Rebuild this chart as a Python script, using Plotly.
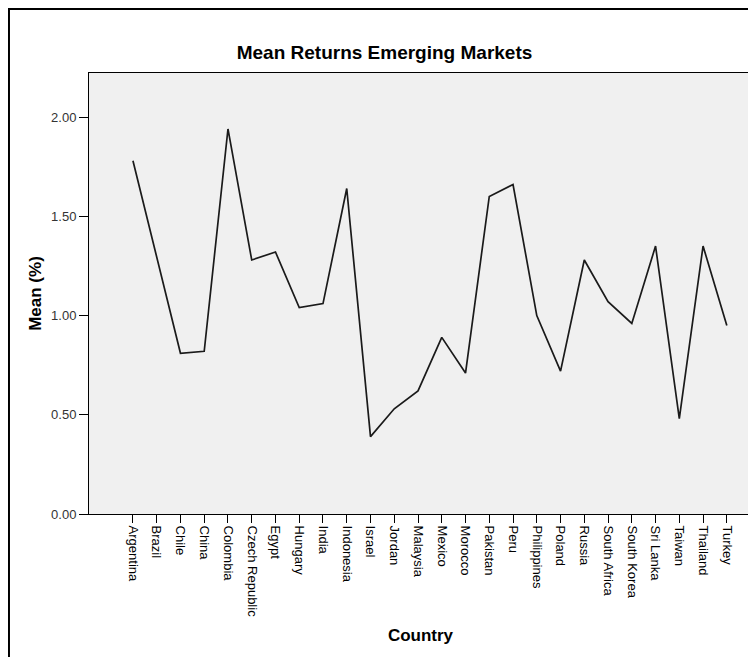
import plotly.graph_objects as go

FONT = "Liberation Sans, Arial, sans-serif"

countries = [
    "Argentina", "Brazil", "Chile", "China", "Colombia", "Czech Republic",
    "Egypt", "Hungary", "India", "Indonesia", "Israel", "Jordan", "Malaysia",
    "Mexico", "Morocco", "Pakistan", "Peru", "Philippines", "Poland", "Russia",
    "South Africa", "South Korea", "Sri Lanka", "Taiwan", "Thailand", "Turkey",
]
mean_returns = [
    1.78, 1.29, 0.81, 0.82, 1.94, 1.28, 1.32, 1.04, 1.06, 1.64, 0.39, 0.53,
    0.62, 0.89, 0.71, 1.60, 1.66, 1.00, 0.72, 1.28, 1.07, 0.96, 1.35, 0.48,
    1.35, 0.95,
]
y_ticks = [0.0, 0.5, 1.0, 1.5, 2.0]

# page has an 8px body margin, so the figure is sized to fit what is left
W, H = 748, 649

fig = go.Figure(
    go.Scatter(
        x=countries, y=mean_returns, mode="lines",
        line=dict(color="#1a1a1a", width=1.7),
        showlegend=False,
    )
)

fig.update_layout(
    width=W, height=H,
    margin=dict(l=81, r=4, t=65, b=143),
    paper_bgcolor="white", plot_bgcolor="#f0f0f0",
    font=dict(family=FONT, color="#000000"),
    title=dict(
        text="<b>Mean Returns Emerging Markets</b>",
        font=dict(size=19, family=FONT, color="#000000"),
        x=376.5 / W, xanchor="center", xref="container",
        y=1 - 44.7 / H, yanchor="middle", yref="container",
    ),
    shapes=[
        # outer chart frame
        dict(type="rect", xref="paper", yref="paper",
             x0=-0.1207, x1=1.03, y0=-0.45, y1=1.1451,
             line=dict(color="#000000", width=2), layer="below"),
        # grey right edge of the plot area
        dict(type="line", xref="paper", yref="paper",
             x0=1, x1=1, y0=0, y1=1,
             line=dict(color="#808080", width=2.5)),
    ],
)

fig.update_xaxes(
    type="category", range=[-1.85, 26.06],
    tickangle=90, ticks="outside", ticklen=8, tickcolor="#000000",
    tickfont=dict(size=13, family=FONT, color="#000000"),
    showline=True, linecolor="#000000", linewidth=1, mirror=True,
    showgrid=False, zeroline=False,
    title=dict(text="<b>Country</b>", font=dict(size=17, family=FONT),
               standoff=12),
)
fig.update_yaxes(
    range=[0, 2.222], tickvals=y_ticks, tickformat=".2f",
    ticks="outside", ticklen=9, tickcolor="#000000",
    tickfont=dict(size=13, family=FONT, color="#333333"),
    showline=True, linecolor="#000000", linewidth=1, mirror=True,
    showgrid=False, zeroline=False,
    title=dict(text="<b>Mean (%)</b>", font=dict(size=17, family=FONT),
               standoff=5),
)

fig.write_html("out.html")
